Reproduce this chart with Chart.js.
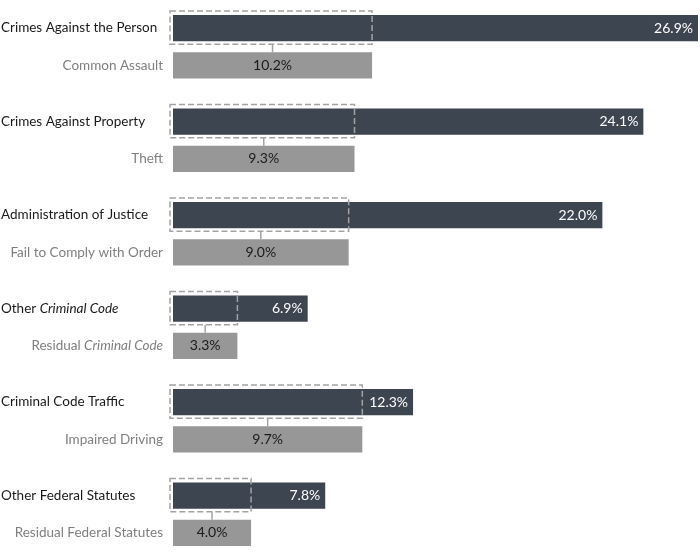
<!DOCTYPE html>
<html>
<head>
<meta charset="utf-8">
<script src="https://cdn.jsdelivr.net/npm/chart.js@4/dist/chart.umd.min.js"></script>
<style>
  html, body { margin: 0; padding: 0; background: #fff; }
  #wrap { width: 700px; height: 552px; position: relative; }
</style>
</head>
<body>
<div id="wrap"><canvas id="grafico"></canvas></div>
<script>
// categorias principales y sus subcategorias (texto entre * va en cursiva)
const categorias = [
    'Crimes Against the Person',
    'Crimes Against Property',
    'Administration of Justice',
    'Other *Criminal Code*',
    'Criminal Code Traffic',
    'Other Federal Statutes'
];
const subcategorias = [
    'Common Assault',
    'Theft',
    'Fail to Comply with Order',
    'Residual *Criminal Code*',
    'Impaired Driving',
    'Residual Federal Statutes'
];
const valoresCategoria = [26.9, 24.1, 22.0, 6.9, 12.3, 7.8];
const valoresSub = [10.2, 9.3, 9.0, 3.3, 9.7, 4.0];

const FUENTE = 'Lato, "Open Sans", sans-serif';
const OSCURO = '#3c4550';
const GRIS = '#979797';

// dibuja texto con tramos en cursiva marcados con *
function textoMixto(ctx, texto, x, y, align, color) {
    const partes = texto.split('*');
    ctx.fillStyle = color;
    ctx.textBaseline = 'middle';
    ctx.textAlign = 'left';
    let ancho = 0;
    partes.forEach((p, i) => {
        ctx.font = (i % 2 ? 'italic ' : '') + '13.5px ' + FUENTE;
        ancho += ctx.measureText(p).width;
    });
    let cx = align === 'right' ? x - ancho : x;
    partes.forEach((p, i) => {
        ctx.font = (i % 2 ? 'italic ' : '') + '13.5px ' + FUENTE;
        ctx.fillText(p, cx, y);
        cx += ctx.measureText(p).width;
    });
}

const pluginEtiquetas = {
    id: 'etiquetas',
    afterDatasetsDraw(chart) {
        const ctx = chart.ctx;
        const x = chart.scales.x;
        const principal = chart.getDatasetMeta(0).data;
        const sub = chart.getDatasetMeta(1).data;
        ctx.save();
        principal.forEach((bar, i) => {
            const b2 = sub[i];
            const h = bar.height;
            const izq = x.getPixelForValue(0);
            const der = x.getPixelForValue(valoresSub[i]);
            const arriba = bar.y - h / 2 - 4;
            const abajo = bar.y + h / 2 + 3;

            // recuadro punteado
            ctx.strokeStyle = '#a3a3a3';
            ctx.lineWidth = 1.5;
            ctx.setLineDash([6, 3]);
            ctx.strokeRect(izq - 3, arriba, der - izq + 3, abajo - arriba);
            ctx.setLineDash([]);

            // conector
            const medio = (izq + der) / 2;
            ctx.beginPath();
            ctx.moveTo(medio, abajo);
            ctx.lineTo(medio, b2.y - b2.height / 2);
            ctx.stroke();

            // valores
            ctx.font = '14px ' + FUENTE;
            ctx.textBaseline = 'middle';
            ctx.fillStyle = '#ffffff';
            ctx.textAlign = 'right';
            ctx.fillText(valoresCategoria[i].toFixed(1) + '%', bar.x - 5, bar.y);
            ctx.fillStyle = '#1a1a1a';
            ctx.textAlign = 'center';
            ctx.fillText(valoresSub[i].toFixed(1) + '%', (b2.base + b2.x) / 2, b2.y);

            // nombres
            textoMixto(ctx, categorias[i], 1, bar.y, 'left', '#1a1a1a');
            textoMixto(ctx, subcategorias[i], 163, b2.y, 'right', '#7f7f7f');
        });
        ctx.restore();
    }
};

const ctx = document.getElementById('grafico').getContext('2d');
const grafico = new Chart(ctx, {
    type: 'bar',
    data: {
        labels: categorias,
        datasets: [{
            data: valoresCategoria,
            backgroundColor: OSCURO,
            categoryPercentage: 0.8,
            barPercentage: 0.7,
            clip: false
        }, {
            data: valoresSub,
            backgroundColor: GRIS,
            categoryPercentage: 0.8,
            barPercentage: 0.7,
            clip: false
        }]
    },
    options: {
        indexAxis: 'y',
        responsive: true,
        maintainAspectRatio: false,
        animation: false,
        layout: { padding: { left: 173, right: 2, top: 46.75, bottom: 37.75 } },
        scales: {
            x: { display: false, min: 0, max: 26.9 },
            y: { display: false, offset: false }
        },
        plugins: {
            legend: { display: false },
            tooltip: { enabled: false }
        }
    },
    plugins: [pluginEtiquetas]
});
</script>
</body>
</html>
